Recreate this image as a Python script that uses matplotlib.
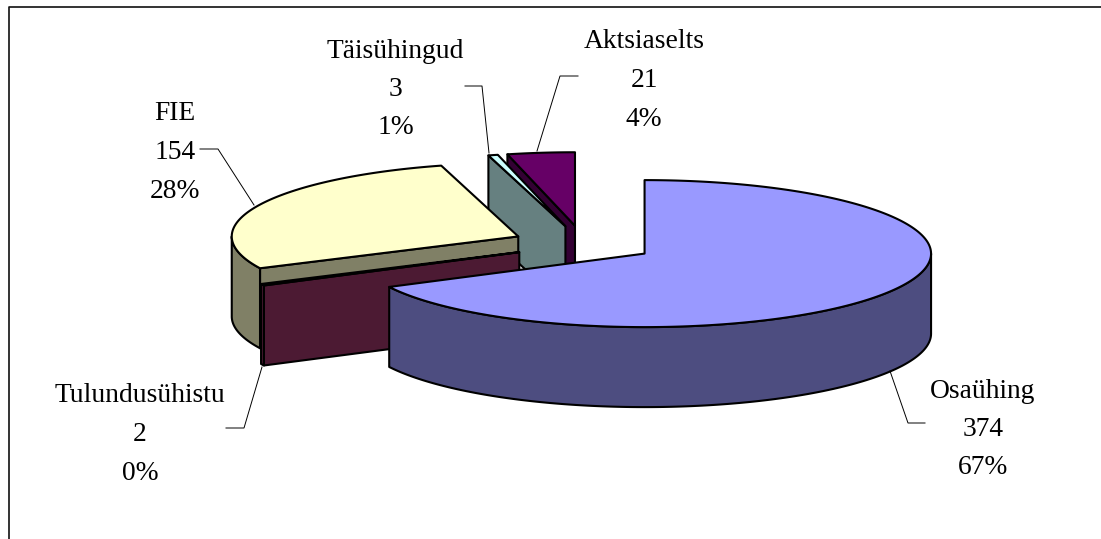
import numpy as np
import matplotlib
matplotlib.use("Agg")
import matplotlib.pyplot as plt
from matplotlib.patches import Polygon

# --- data -------------------------------------------------------------
categories = ["Osaühing", "Tulundusühistu", "FIE", "Täisühingud", "Aktsiaselts"]
values = [374, 2, 154, 3, 21]
percent_labels = ["67%", "0%", "28%", "1%", "4%"]
top_colors = ["#9999FF", "#993366", "#FFFFCC", "#CCFFFF", "#660066"]
side_colors = ["#4D4D80", "#4C1A33", "#808066", "#668080", "#330033"]

# --- layout -----------------------------------------------------------
W, H = 1101, 539
CX, CY = 583.5, 244    # pie centre (px)
A, B = 286.5, 73.5     # ellipse radii (px)
DEPTH = 80             # height of the pie (px)
EXPLODE = 0.25
label_centres = {
    "Osaühing": (983, 388), "Tulundusühistu": (140, 393), "FIE": (175, 111),
    "Täisühingud": (395.5, 48), "Aktsiaselts": (644, 39),
}
leaders = {
    "Osaühing": [(890, 371), (908, 423), (925, 423)],
    "Tulundusühistu": [(262, 367), (244, 428), (226, 428)],
    "FIE": [(254, 205), (218, 149), (200, 149)],
    "Täisühingud": [(489, 153), (482, 86), (465, 86)],
    "Aktsiaselts": [(537, 151), (560, 76), (578, 76)],
}
LINE_STEP = 38.5
FONT_PX = 27.5

fig = plt.figure(figsize=(W / 100, H / 100), dpi=100)
ax = fig.add_axes([0, 0, 1, 1])
ax.set_xlim(0, W)
ax.set_ylim(H, 0)
ax.axis("off")

# chart frame: only the top and left edges fall inside the picture
ax.plot([8.5, 8.5, W], [H, 6.5, 6.5], color="#111111", lw=1.2, zorder=1)


def rim(theta_deg, centre):
    t = np.radians(theta_deg)
    return centre[0] + A * np.sin(t), centre[1] - B * np.cos(t)


total = sum(values)
edges = np.concatenate([[0], np.cumsum(values)]) / total * 360
slices = []
for i, name in enumerate(categories):
    t0, t1 = edges[i], edges[i + 1]
    mid = (t0 + t1) / 2
    dx, dy = rim(mid, (0, 0))
    apex = (CX + EXPLODE * dx, CY + EXPLODE * dy)
    slices.append((apex[1], i, t0, t1, apex))

OUT = dict(edgecolor="black", linewidth=1.5, joinstyle="round")
z = 2
for _, i, t0, t1, apex in sorted(slices, key=lambda s: s[0]):
    top = top_colors[i]
    side = side_colors[i]
    # start cut face
    if 180 <= t0 < 360:
        rx, ry = rim(t0, apex)
        ax.add_patch(Polygon([apex, (rx, ry), (rx, ry + DEPTH), (apex[0], apex[1] + DEPTH)],
                             facecolor=side, zorder=z, **OUT))
        z += 1
    # end cut face
    if 0 < t1 < 180:
        rx, ry = rim(t1, apex)
        ax.add_patch(Polygon([apex, (rx, ry), (rx, ry + DEPTH), (apex[0], apex[1] + DEPTH)],
                             facecolor=side, zorder=z, **OUT))
        z += 1
    # outer wall (front half of the rim only)
    w0, w1 = max(t0, 90), min(t1, 270)
    if w1 > w0:
        th = np.linspace(w0, w1, 200)
        xs, ys = rim(th, apex)
        pts = np.r_[np.c_[xs, ys], np.c_[xs, ys + DEPTH][::-1]]
        ax.add_patch(Polygon(pts, facecolor=side, zorder=z, **OUT))
        z += 1
    # top face
    th = np.linspace(t0, t1, 300)
    xs, ys = rim(th, apex)
    pts = np.r_[[apex], np.c_[xs, ys]]
    ax.add_patch(Polygon(pts, facecolor=top, zorder=z, **OUT))
    z += 1

# labels and leader lines
for i, name in enumerate(categories):
    pts = np.array(leaders[name])
    ax.plot(pts[:, 0], pts[:, 1], color="black", lw=0.7, zorder=z)
    x, y = label_centres[name]
    for k, s in enumerate([name, str(values[i]), percent_labels[i]]):
        ax.text(x, y + k * LINE_STEP, s, ha="center", va="center_baseline",
                family="Liberation Serif", fontsize=FONT_PX * 0.72, color="black", zorder=z + 1)

fig.savefig("out.png", dpi=100, facecolor="white")
